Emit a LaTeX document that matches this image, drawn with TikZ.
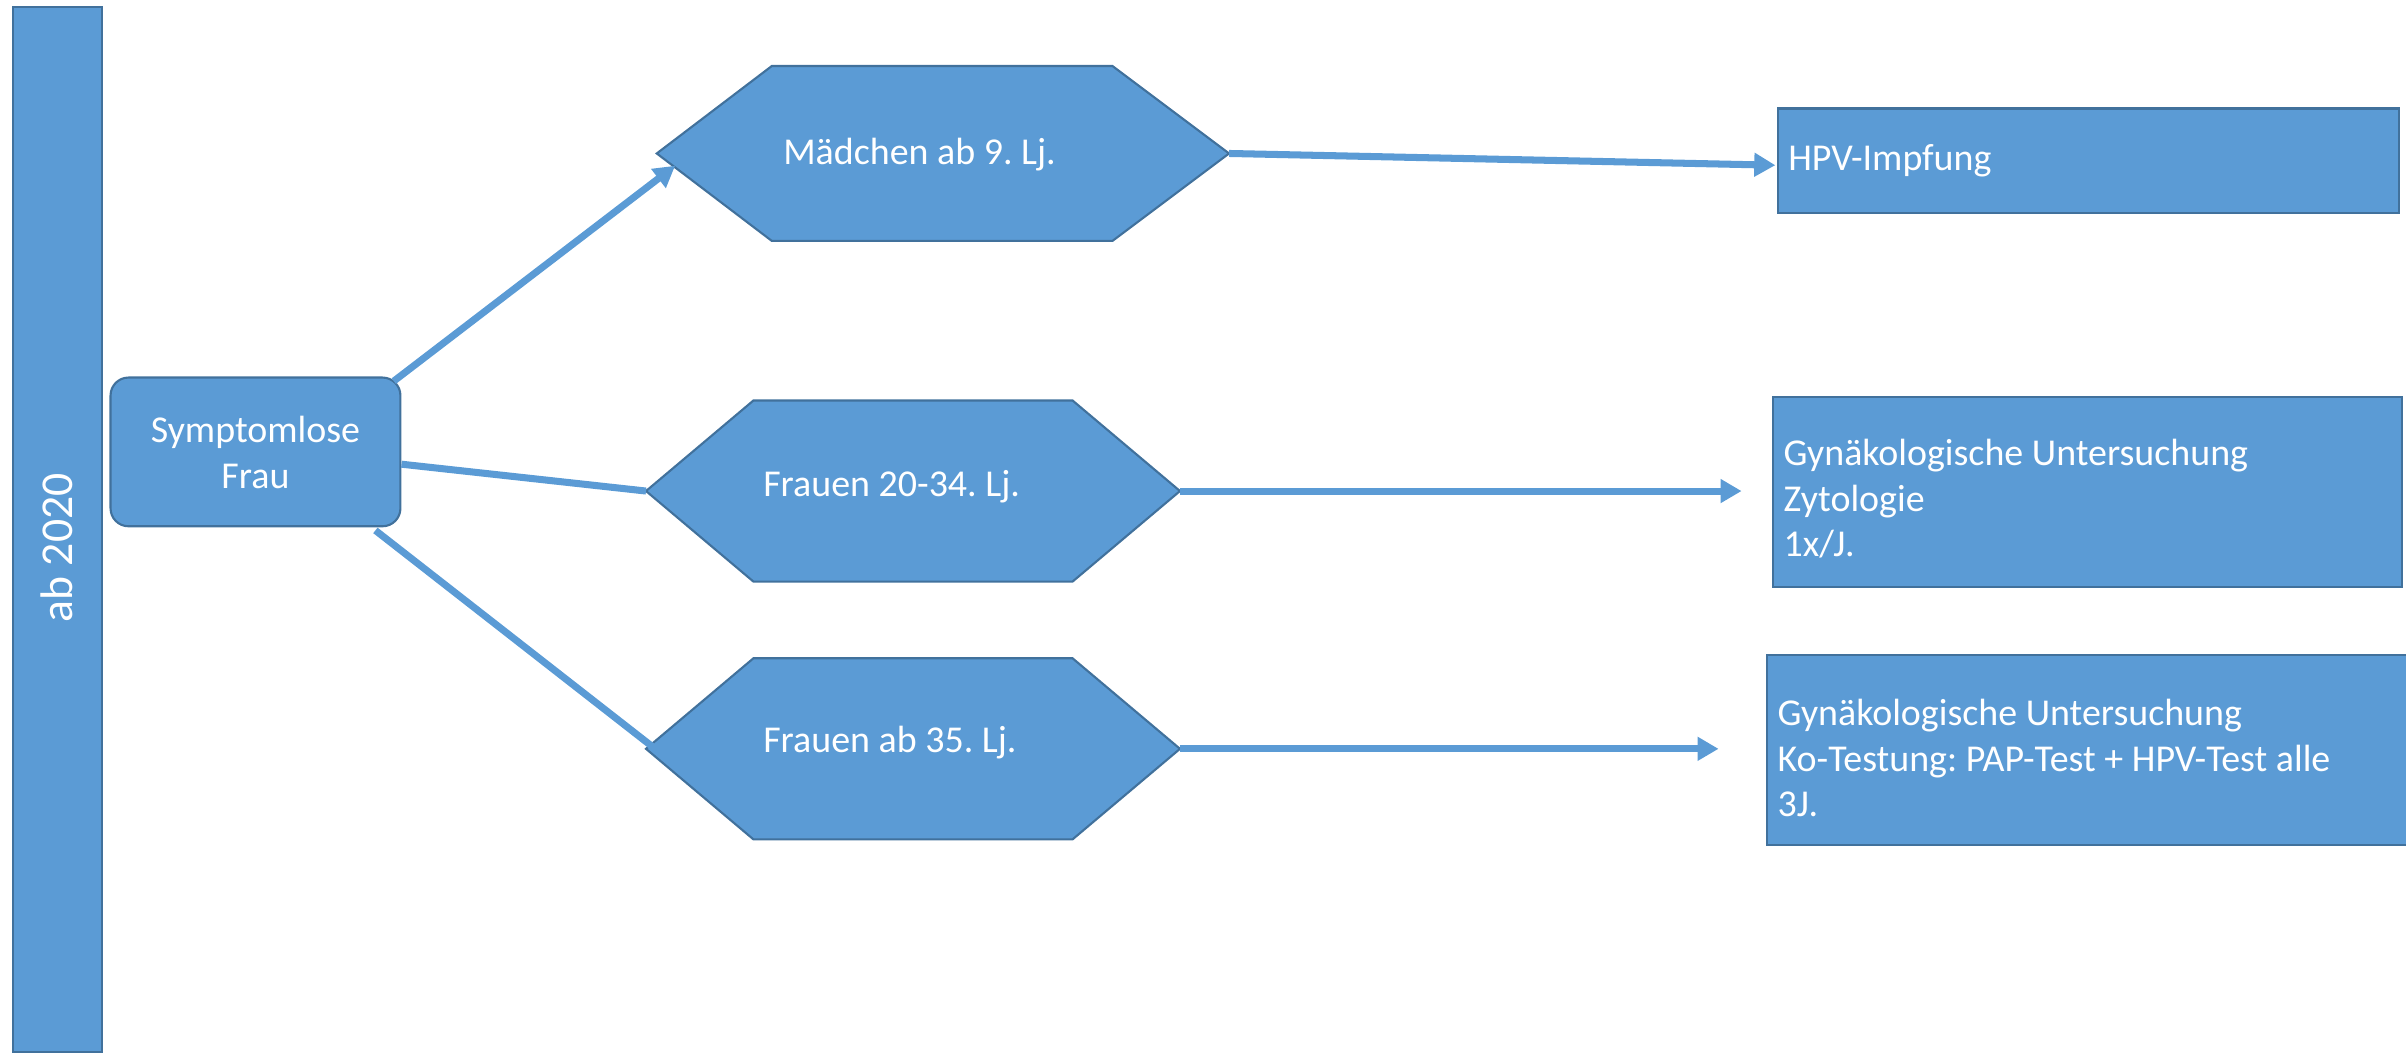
\documentclass[tikz,border=0pt]{standalone}
\usepackage{fontspec}
\setmainfont{Carlito}
\usetikzlibrary{arrows.meta}
\definecolor{fillblue}{HTML}{5B9BD5}
\definecolor{edgeblue}{HTML}{41719C}
\frenchspacing
\begin{document}
\begin{tikzpicture}[x=0.015344cm,y=-0.015344cm,
  box/.style={draw=edgeblue, fill=fillblue, line width=0.6pt},
  lbl/.style={text=white, font=\fontsize{10.8}{13}\selectfont, inner sep=0pt, align=left},
  conn/.style={draw=fillblue, line width=2pt},
  arr/.style={conn, -{Triangle[length=6pt,width=6.5pt]}}]
\useasboundingbox (0,0) rectangle (1568,687.5);

% left bar
\node[box, anchor=north west, minimum width=0.89cm, minimum height=10.449cm, inner sep=0pt] (bar) at (8,4) {};
\node[lbl, rotate=90, font=\fontsize{13}{16}\selectfont] (bartext) at (37,357) {ab 2020};

% start node
\node[box, rounded corners=0.18cm, minimum width=2.9cm, minimum height=1.488cm, inner sep=0pt] (frau) at (166.5,294.5) {};
\node[lbl, align=center] (frautext) at (166.5,295) {Symptomlose\\Frau};

% hexagons
\coordinate (h1w) at (428,100); \coordinate (h1e) at (801,100);
\path[box] (h1w) -- (503,43) -- (725,43) -- (h1e) -- (725,157) -- (503,157) -- cycle;
\node[lbl, anchor=west] (h1t) at (510,101) {Mädchen ab 9. Lj.};

\coordinate (h2w) at (421,320); \coordinate (h2e) at (769,320);
\path[box] (h2w) -- (491,261) -- (699,261) -- (h2e) -- (699,379) -- (491,379) -- cycle;
\node[lbl, anchor=west] (h2t) at (497,317) {Frauen 20-34. Lj.};

\coordinate (h3w) at (421,488); \coordinate (h3e) at (769,488);
\path[box] (h3w) -- (491,429) -- (699,429) -- (h3e) -- (699,547) -- (491,547) -- cycle;
\node[lbl, anchor=west] (h3t) at (497,484) {Frauen ab 35. Lj.};

% right boxes
\node[box, anchor=north west, minimum width=6.214cm, minimum height=1.043cm, inner sep=0pt] (hpv) at (1158,70) {};
\node[lbl, anchor=west] (hpvt) at (1165,105) {HPV-Impfung};

\node[box, anchor=north west, minimum width=6.291cm, minimum height=1.903cm, inner sep=0pt] (zyto) at (1155,258) {};
\node[lbl, anchor=west] (zytot) at (1162,325) {Gynäkologische Untersuchung\\Zytologie\\1x/J.};

\node[box, anchor=north west, minimum width=6.46cm, minimum height=1.903cm, inner sep=0pt] (ko) at (1151,426) {};
\node[lbl, anchor=west] (kot) at (1158,494) {Gynäkologische Untersuchung\\Ko-Testung: PAP-Test + HPV-Test alle\\3J.};

% connectors
\draw[arr] ([shift={(-5,3)}]frau.north east) -- ([shift={(12,8)}]h1w);
\draw[conn] ([shift={(0,8)}]frau.east) -- (h2w);
\draw[conn] ([shift={(-17,2)}]frau.south east) -- ([shift={(6,0)}]h3w);
\draw[arr] (h1e) -- ([shift={(-1,3)}]hpv.west);
\draw[arr] (h2e) -- ([shift={(-20,0)}]zyto.west |- h2e);
\draw[arr] (h3e) -- ([shift={(-31,0)}]ko.west |- h3e);
\end{tikzpicture}
\end{document}
